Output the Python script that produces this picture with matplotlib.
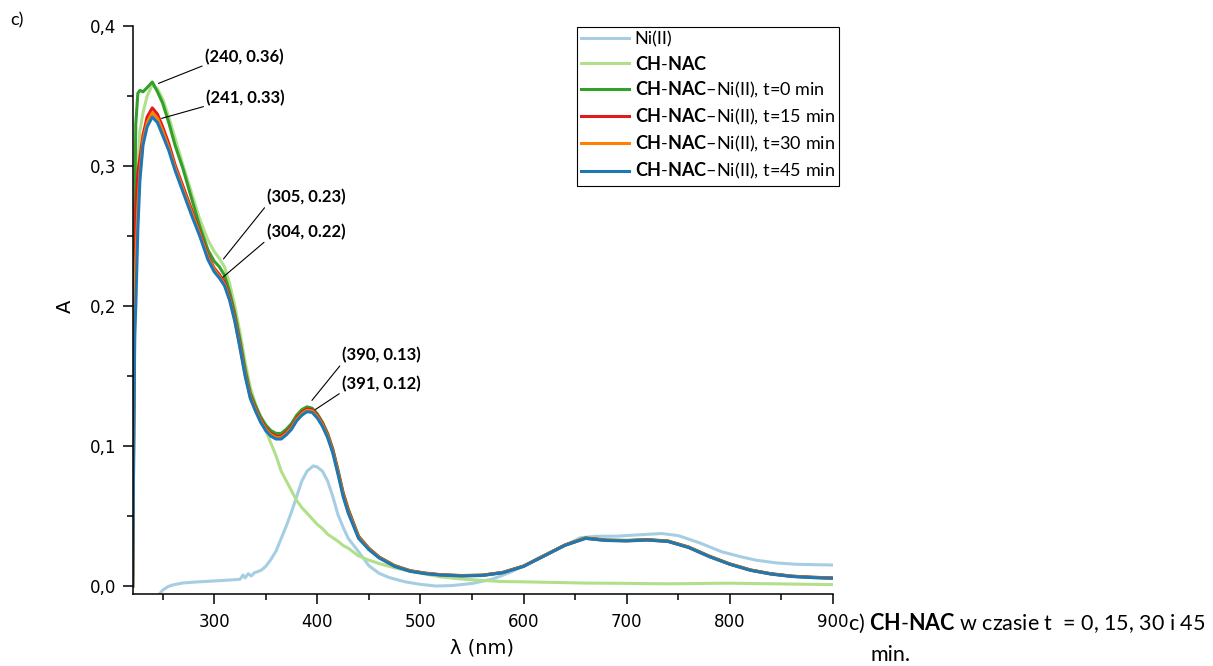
import matplotlib
matplotlib.use("Agg")
import matplotlib.pyplot as plt
from matplotlib.ticker import MultipleLocator, FuncFormatter

# wavelength grid shared by CH-NAC and the CH-NAC-Ni(II) series (nm)
wl = [221, 222, 223, 224, 226, 228, 231, 235, 240, 245,
      250, 256, 262, 270, 278, 286, 294, 300, 305, 310,
      315, 320, 325, 330, 335, 340, 345, 350, 355, 360,
      365, 370, 375, 380, 385, 390, 395, 400, 405, 410,
      415, 420, 425, 430, 440, 450, 460, 475, 490, 505,
      520, 540, 560, 580, 600, 620, 640, 660, 680, 700,
      720, 740, 760, 780, 800, 820, 840, 860, 880, 900]

ch_nac = [0.000, 0.100, 0.200, 0.260, 0.300, 0.325, 0.338, 0.350, 0.358, 0.355,
          0.348, 0.335, 0.320, 0.300, 0.281, 0.262, 0.247, 0.239, 0.234, 0.228,
          0.216, 0.200, 0.181, 0.160, 0.142, 0.130, 0.120, 0.111, 0.102, 0.093,
          0.082, 0.075, 0.068, 0.061, 0.056, 0.052, 0.048, 0.044, 0.041, 0.037,
          0.0345, 0.032, 0.029, 0.027, 0.0215, 0.0185, 0.016, 0.013, 0.0105, 0.0085,
          0.0065, 0.005, 0.004, 0.0032, 0.003, 0.0027, 0.0024, 0.0021, 0.002, 0.0019,
          0.0017, 0.0016, 0.0017, 0.0019, 0.002, 0.0018, 0.0016, 0.0014, 0.0012, 0.001]

t0 = [0.000, 0.150, 0.270, 0.330, 0.352, 0.354, 0.353, 0.356, 0.360, 0.353,
      0.345, 0.331, 0.315, 0.2975, 0.277, 0.257, 0.240, 0.232, 0.228, 0.222,
      0.210, 0.195, 0.176, 0.155, 0.138, 0.129, 0.121, 0.115, 0.111, 0.109,
      0.109, 0.112, 0.116, 0.122, 0.126, 0.128, 0.127, 0.123, 0.117, 0.109,
      0.098, 0.083, 0.067, 0.055, 0.0356, 0.027, 0.0207, 0.0146, 0.011, 0.0092,
      0.0081, 0.0075, 0.0078, 0.0098, 0.0143, 0.0218, 0.0293, 0.0344, 0.0329, 0.0326,
      0.0332, 0.0322, 0.0279, 0.0214, 0.0158, 0.0115, 0.0088, 0.0071, 0.0063, 0.0058]

t15 = [0.000, 0.120, 0.210, 0.270, 0.295, 0.306, 0.322, 0.335, 0.3415, 0.337,
       0.328, 0.316, 0.301, 0.285, 0.269, 0.253, 0.236, 0.227, 0.2225, 0.217,
       0.2065, 0.1915, 0.1725, 0.152, 0.136, 0.127, 0.119, 0.113, 0.109, 0.107,
       0.107, 0.110, 0.114, 0.120, 0.124, 0.1265, 0.126, 0.122, 0.116, 0.108,
       0.097, 0.082, 0.066, 0.054, 0.0352, 0.0268, 0.0205, 0.0144, 0.0108, 0.0091,
       0.008, 0.0074, 0.0077, 0.0097, 0.0142, 0.0217, 0.0292, 0.0342, 0.0327, 0.0324,
       0.033, 0.032, 0.0277, 0.0212, 0.0157, 0.0114, 0.0087, 0.007, 0.0062, 0.0057]

t30 = [0.000, 0.105, 0.190, 0.230, 0.270, 0.295, 0.318, 0.331, 0.338, 0.334,
       0.325, 0.313, 0.299, 0.283, 0.267, 0.2515, 0.2345, 0.226, 0.221, 0.2155,
       0.205, 0.190, 0.171, 0.151, 0.135, 0.126, 0.118, 0.112, 0.108, 0.106,
       0.106, 0.109, 0.113, 0.119, 0.123, 0.1255, 0.125, 0.121, 0.115, 0.107,
       0.096, 0.081, 0.065, 0.053, 0.0348, 0.0265, 0.0203, 0.0142, 0.0107, 0.009,
       0.0079, 0.0073, 0.0076, 0.0096, 0.0141, 0.0216, 0.0291, 0.0341, 0.0326, 0.0323,
       0.0329, 0.0319, 0.0276, 0.0211, 0.0156, 0.0113, 0.0086, 0.0069, 0.0061, 0.0056]

t45 = [0.000, 0.100, 0.180, 0.200, 0.255, 0.290, 0.315, 0.328, 0.335, 0.331,
       0.322, 0.311, 0.297, 0.281, 0.265, 0.250, 0.233, 0.2245, 0.220, 0.2145,
       0.204, 0.189, 0.170, 0.150, 0.134, 0.125, 0.117, 0.111, 0.107, 0.105,
       0.105, 0.108, 0.112, 0.118, 0.122, 0.1245, 0.124, 0.120, 0.114, 0.106,
       0.095, 0.080, 0.064, 0.052, 0.034, 0.026, 0.020, 0.014, 0.0105, 0.0088,
       0.0078, 0.0072, 0.0075, 0.0095, 0.014, 0.0215, 0.029, 0.034, 0.0325, 0.0322,
       0.0328, 0.0318, 0.0275, 0.021, 0.0155, 0.0112, 0.0085, 0.0068, 0.006, 0.0055]

# Ni(II) alone, own wavelength grid
ni_wl = [247, 250, 255, 260, 270, 285, 300, 315, 325, 328,
         330, 333, 336, 339, 342, 346, 350, 355, 360, 365,
         370, 375, 380, 385, 390, 396, 400, 405, 410, 415,
         420, 425, 430, 440, 450, 460, 470, 485, 500, 515,
         530, 550, 570, 587, 605, 621, 640, 655, 670, 690,
         710, 734, 750, 770, 792, 810, 825, 845, 865, 900]
ni = [-0.0057, -0.003, -0.0005, 0.0008, 0.0022, 0.003, 0.0036, 0.0043, 0.0048, 0.0078,
      0.0058, 0.0088, 0.0072, 0.0095, 0.0102, 0.0115, 0.014, 0.019, 0.025, 0.034,
      0.043, 0.053, 0.064, 0.075, 0.082, 0.0858, 0.085, 0.082, 0.075, 0.064,
      0.051, 0.042, 0.034, 0.0245, 0.0145, 0.009, 0.006, 0.003, 0.0012, 0.0,
      0.0003, 0.0018, 0.005, 0.0098, 0.016, 0.022, 0.029, 0.0345, 0.0355, 0.0356,
      0.0365, 0.0375, 0.036, 0.031, 0.0245, 0.021, 0.0185, 0.0165, 0.0155, 0.015]

# peak labels: text, point on curve, text position (left/center)
peak_labels = ["(240, 0.36)", "(241, 0.33)", "(305, 0.23)", "(304, 0.22)", "(390, 0.13)", "(391, 0.12)"]
peak_points = [(246, 0.359), (249, 0.334), (309, 0.2336), (308.4, 0.2205), (394.8, 0.1326), (398, 0.126)]
peak_text_pos = [(291, 0.378), (292.3, 0.3488), (351, 0.278), (351, 0.253), (424, 0.165), (424, 0.1445)]

bold_ch = r"$\mathbf{CH}$-$\mathbf{NAC}$"
series_labels = ["Ni(II)", bold_ch,
                 bold_ch + "–Ni(II), t=0 min", bold_ch + "–Ni(II), t=15 min",
                 bold_ch + "–Ni(II), t=30 min", bold_ch + "–Ni(II), t=45 min"]
series_colors = ["#a6cee3", "#b2df8a", "#33a02c", "#e31a1c", "#ff7f00", "#1f78b4"]

plt.rcParams['mathtext.fontset'] = 'custom'
plt.rcParams['mathtext.rm'] = 'Lato'
plt.rcParams['mathtext.bf'] = 'Lato:bold'

fig = plt.figure(figsize=(12.13, 6.66), dpi=100)
ax = fig.add_axes([132.7 / 1213, 72 / 666, 700.3 / 1213, 568 / 666])

xs = [ni_wl, wl, wl, wl, wl, wl]
ys = [ni, ch_nac, t0, t15, t30, t45]
for x, y, lab, col in zip(xs, ys, series_labels, series_colors):
    ax.plot(x, y, color=col, lw=2.2, label=lab)

ax.set_xlim(221, 900)
ax.set_ylim(-0.0057, 0.4)
ax.spines['top'].set_visible(False)
ax.spines['right'].set_visible(False)
for s in ['left', 'bottom']:
    ax.spines[s].set_linewidth(1.1)

ax.xaxis.set_major_locator(MultipleLocator(100))
ax.xaxis.set_minor_locator(MultipleLocator(50))
ax.yaxis.set_major_locator(MultipleLocator(0.1))
ax.yaxis.set_minor_locator(MultipleLocator(0.05))
ax.yaxis.set_major_formatter(FuncFormatter(lambda v, p: f"{v:.1f}".replace('.', ',')))
ax.xaxis.set_major_formatter(FuncFormatter(lambda v, p: f"{v:.0f}"))
ax.tick_params(which='major', direction='out', length=7, width=1.1, labelsize=12)
ax.tick_params(which='minor', direction='out', length=4, width=1.1)
ax.tick_params(axis='y', pad=5)
ax.tick_params(axis='x', pad=7)

ax.set_ylabel("A", fontsize=14)
ax.yaxis.set_label_coords((75 - 132.7) / 700.3, (594 - 306) / 568)
ax.set_xlabel("λ (nm)", fontsize=14)
ax.xaxis.set_label_coords((482 - 132.7) / 700.3, (594 - 638) / 568)

leg = ax.legend(loc='upper left', bbox_to_anchor=(0.634, 0.998), borderaxespad=0,
                prop={'family': 'Lato', 'size': 13}, handlelength=2.66, handletextpad=0.3,
                labelspacing=0.39, borderpad=0.25, fancybox=False, framealpha=1,
                edgecolor='black')
leg.get_frame().set_linewidth(0.8)

# peak annotations with leader lines
for txt, pt, pos in zip(peak_labels, peak_points, peak_text_pos):
    ax.annotate(txt, xy=pt, xytext=pos, fontsize=12, fontweight='bold', family='Lato',
                ha='left', va='center',
                arrowprops=dict(arrowstyle='-', color='black', lw=0.8, relpos=(0, 0),
                                shrinkA=0, shrinkB=0))

fig.text(10 / 1213, 1 - 20 / 666, "c)", family='Lato', fontsize=13, va='center')
fig.text(848 / 1213, 1 - 623 / 666, "c) " + bold_ch + " w czasie t  = 0, 15, 30 i 45",
         family='Lato', fontsize=15.5, va='center')
fig.text(870 / 1213, 1 - 655 / 666, "min.", family='Lato', fontsize=15.5, va='center')

fig.savefig("out.png", dpi=100)
